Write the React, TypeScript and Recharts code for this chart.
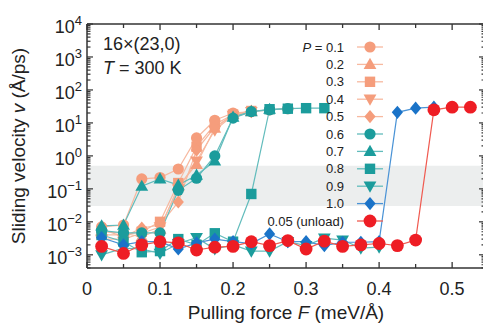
import React from 'react';
import { LineChart, Line, XAxis, YAxis, ReferenceArea, Legend } from 'recharts';

const FONT = '"Liberation Sans", Arial, Helvetica, sans-serif';

// pulling force F (meV/Å)
const forces = [0.02, 0.05, 0.075, 0.1, 0.125, 0.15, 0.175, 0.2, 0.225, 0.25, 0.275, 0.3, 0.325, 0.35, 0.375, 0.4, 0.425, 0.45, 0.475, 0.5, 0.525];

// sliding velocity v (Å/ps) for each pressure P
const p01 = [0.007, 0.008, 0.2, 0.22, 0.4, 3.5, 12, 20, 22, 25, 27, null, null, null, null, null, null, null, null, null, null];
const p02 = [0.005, 0.0045, 0.0035, 0.006, 0.12, 0.55, 7, 18, 23, null, null, null, null, null, null, null, null, null, null, null, null];
const p03 = [0.004, 0.004, 0.005, 0.01, 0.15, 1.9, 9, 18, 23, null, null, null, null, null, null, null, null, null, null, null, null];
const p04 = [0.003, 0.003, 0.0045, 0.007, 0.1, 0.7, 6, 17, 22, null, null, null, null, null, null, null, null, null, null, null, null];
const p05 = [0.006, 0.0035, 0.0065, 0.008, 0.04, 1.5, 7.5, 17, 22, null, null, null, null, null, null, null, null, null, null, null, null];
const p06 = [0.0054, 0.0046, 0.0046, 0.0046, 0.09, 0.21, 1.0, 14, 22, 25, 27, null, null, null, null, null, null, null, null, null, null];
const p07 = [0.0075, 0.008, 0.12, 0.2, 0.13, 0.26, 0.7, 15, 22, 26, null, null, null, null, null, null, null, null, null, null, null];
const p08 = [0.004, 0.0025, 0.0012, 0.0013, 0.003, 0.002, 0.0045, 0.0025, 0.07, 26, 27, 28, 28, null, null, null, null, null, null, null, null];
const p09 = [0.001, 0.0016, 0.0015, 0.0011, 0.0022, 0.0033, 0.0015, 0.002, 0.0013, 0.0013, 0.0025, 0.0019, 0.0032, 0.0028, 0.0016, 0.0017, null, null, null, null, null];
const p10 = [0.0033, 0.002, 0.0025, 0.0025, 0.0015, 0.0023, 0.003, 0.0025, 0.0022, 0.0043, 0.0025, 0.0025, 0.0019, 0.0024, 0.0024, 0.0025, 21, 28, 30, null, null];
const unload = [0.0018, 0.0011, 0.002, 0.0025, 0.0023, 0.0014, 0.0017, 0.0018, 0.0025, 0.0019, 0.0027, 0.0015, 0.0026, 0.0018, 0.002, 0.0022, 0.0019, 0.0028, 25, 30, 30];

const xTicks = [0, 0.05, 0.1, 0.15, 0.2, 0.25, 0.3, 0.35, 0.4, 0.45, 0.5];
const xLabels = ['0', '', '0.1', '', '0.2', '', '0.3', '', '0.4', '', '0.5'];
const yDecades = [-3, -2, -1, 0, 1, 2, 3, 4];
const yMinor = [2, 3, 4, 5, 6, 7, 8, 9];

const yTicks: number[] = [];
[-4, ...yDecades].forEach((d) => {
  if (d >= -3) yTicks.push(Math.pow(10, d));
  if (d < 4) yMinor.forEach((m) => {
    const v = m * Math.pow(10, d);
    if (v >= Math.pow(10, -3.4)) yTicks.push(v);
  });
});

const SALMON = '#f59d7c';
const SALMON_LINE = '#f7b9a0';
const TEAL = '#1b9c9c';
const TEAL_LINE = '#62bcbc';

const series = [
  { key: 'p01', label: '0.1', values: p01, color: SALMON, line: SALMON_LINE, shape: 'circle' },
  { key: 'p02', label: '0.2', values: p02, color: SALMON, line: SALMON_LINE, shape: 'up' },
  { key: 'p03', label: '0.3', values: p03, color: SALMON, line: SALMON_LINE, shape: 'square' },
  { key: 'p04', label: '0.4', values: p04, color: SALMON, line: SALMON_LINE, shape: 'down' },
  { key: 'p05', label: '0.5', values: p05, color: SALMON, line: SALMON_LINE, shape: 'diamond' },
  { key: 'p06', label: '0.6', values: p06, color: TEAL, line: TEAL_LINE, shape: 'circle' },
  { key: 'p07', label: '0.7', values: p07, color: TEAL, line: TEAL_LINE, shape: 'up' },
  { key: 'p08', label: '0.8', values: p08, color: TEAL, line: TEAL_LINE, shape: 'square' },
  { key: 'p09', label: '0.9', values: p09, color: TEAL, line: TEAL_LINE, shape: 'down' },
  { key: 'p10', label: '1.0', values: p10, color: '#1a73c8', line: '#4a93d6', shape: 'diamond' },
  { key: 'unload', label: '0.05 (unload)', values: unload, color: '#ee1d24', line: '#f05a50', shape: 'bigcircle' },
];

const data = forces.map((F, i) => {
  const row: any = { F };
  series.forEach((s) => { row[s.key] = s.values[i]; });
  return row;
});

const Marker = ({ shape, cx, cy, color }: any) => {
  switch (shape) {
    case 'circle':
      return <circle cx={cx} cy={cy} r={5.6} fill={color} />;
    case 'bigcircle':
      return <circle cx={cx} cy={cy} r={6.4} fill={color} />;
    case 'square':
      return <rect x={cx - 5.2} y={cy - 5.2} width={10.4} height={10.4} fill={color} />;
    case 'up':
      return <polygon points={`${cx},${cy - 6.6} ${cx - 6.4},${cy + 4.6} ${cx + 6.4},${cy + 4.6}`} fill={color} />;
    case 'down':
      return <polygon points={`${cx},${cy + 6.6} ${cx - 6.4},${cy - 4.6} ${cx + 6.4},${cy - 4.6}`} fill={color} />;
    case 'diamond':
      return <polygon points={`${cx},${cy - 6.6} ${cx + 5.6},${cy} ${cx},${cy + 6.6} ${cx - 5.6},${cy}`} fill={color} />;
    default:
      return null;
  }
};

const makeDot = (shape: string, color: string) => (props: any) => {
  const { cx, cy, value, index } = props;
  if (value == null || cy == null || isNaN(cy)) return <g key={`e${index}`} />;
  return <Marker key={`d${index}`} shape={shape} cx={cx} cy={cy} color={color} />;
};

const isDecade = (v: number) => Math.abs(Math.log10(v) - Math.round(Math.log10(v))) < 1e-6;

const BottomTick = ({ x, y, index }: any) => {
  const major = xLabels[index] !== '';
  return (
    <g>
      <line x1={x} x2={x} y1={y} y2={y - (major ? 6 : 4)} stroke="#333" strokeWidth={1.3} />
      {major && (
        <text x={x} y={y + 27} textAnchor="middle" fontSize={18} fontFamily={FONT} fill="#222">{xLabels[index]}</text>
      )}
    </g>
  );
};

const TopTick = ({ x, y, index }: any) => {
  const major = xLabels[index] !== '';
  return <line x1={x} x2={x} y1={y} y2={y + (major ? 6 : 4)} stroke="#333" strokeWidth={1.3} />;
};

const LeftTick = ({ x, y, payload }: any) => {
  const v = payload.value;
  const major = isDecade(v);
  const e = Math.round(Math.log10(v));
  return (
    <g>
      <line x1={x} x2={x + (major ? 6 : 3.5)} y1={y} y2={y} stroke="#333" strokeWidth={1.2} />
      {major && (
        <text x={x - 5} y={y + 9} textAnchor="end" fontSize={18} fontFamily={FONT} fill="#222">
          10<tspan dy={-8} fontSize={13}>{e < 0 ? `\u2212${-e}` : `${e}`}</tspan>
        </text>
      )}
    </g>
  );
};

const RightTick = ({ x, y, payload }: any) => {
  const major = isDecade(payload.value);
  return <line x1={x} x2={x - (major ? 6 : 3.5)} y1={y} y2={y} stroke="#333" strokeWidth={1.2} />;
};

const LegendBox = () => (
  <svg width={170} height={200} style={{ display: 'block' }}>
    {series.map((s, i) => {
      const y = 8 + i * 17.4;
      return (
        <g key={s.key}>
          <text x={104} y={y + 4.5} textAnchor="end" fontSize={13} fontFamily={FONT} fill="#222">
            {i === 0 ? (<><tspan fontStyle="italic">P</tspan> = {s.label}</>) : s.label}
          </text>
          <line x1={117} x2={143} y1={y} y2={y} stroke={s.line} strokeWidth={1.3} />
          <Marker shape={s.shape} cx={130} cy={y} color={s.color} />
        </g>
      );
    })}
  </svg>
);

export default function App() {
  return (
    <div style={{ position: 'absolute', left: 0, top: 0, width: 483, height: 326, overflow: 'hidden', background: '#fff' }}>
      <LineChart width={490} height={326} data={data} margin={{ top: 0, right: 0, bottom: 0, left: 0 }}>
        <XAxis xAxisId="b" dataKey="F" type="number" domain={[0, 0.545]} allowDataOverflow ticks={xTicks}
          interval={0} height={58} tickSize={0} tickMargin={0} tickLine={false}
          axisLine={{ stroke: '#333', strokeWidth: 1.5 }} tick={<BottomTick />} />
        <XAxis xAxisId="t" orientation="top" dataKey="F" type="number" domain={[0, 0.545]} allowDataOverflow ticks={xTicks}
          interval={0} height={24} tickSize={0} tickMargin={0} tickLine={false}
          axisLine={{ stroke: '#333', strokeWidth: 1.5 }} tick={<TopTick />} />
        <YAxis yAxisId="l" type="number" scale="log" domain={[Math.pow(10, -3.4), 1e4]} allowDataOverflow ticks={yTicks}
          interval={0} width={87} tickSize={0} tickMargin={0} tickLine={false}
          axisLine={{ stroke: '#333', strokeWidth: 1.5 }} tick={<LeftTick />} />
        <YAxis yAxisId="r" orientation="right" type="number" scale="log" domain={[Math.pow(10, -3.4), 1e4]} allowDataOverflow ticks={yTicks}
          interval={0} width={5} tickSize={0} tickMargin={0} tickLine={false}
          axisLine={{ stroke: '#333', strokeWidth: 1.5 }} tick={<RightTick />} />
        <ReferenceArea xAxisId="b" yAxisId="l" y1={0.03} y2={0.5} fill="#eceeee" fillOpacity={1} stroke="none" ifOverflow="hidden" />
        {series.map((s) => (
          <Line key={s.key} xAxisId="b" yAxisId="l" dataKey={s.key} name={s.label} stroke={s.line} strokeWidth={1.2}
            dot={makeDot(s.shape, s.color)} activeDot={false} isAnimationActive={false} connectNulls={false} />
        ))}
        <Legend layout="vertical" align="center" verticalAlign="middle" content={<LegendBox />}
          wrapperStyle={{ left: 240, top: 39, width: 170, height: 200 }} />
      </LineChart>
      <svg width={483} height={326} style={{ position: 'absolute', left: 0, top: 0, pointerEvents: 'none' }}>
        <text x={103} y={50} fontSize={18} fontFamily={FONT} fill="#222">16×(23,0)</text>
        <text x={103} y={74} fontSize={18} fontFamily={FONT} fill="#222">
          <tspan fontStyle="italic">T</tspan> = 300 K
        </text>
        <text x={286} y={319} textAnchor="middle" fontSize={19} fontFamily={FONT} fill="#222">
          Pulling force <tspan fontStyle="italic">F</tspan> (meV/Å)
        </text>
        <text transform="translate(25,146) rotate(-90)" textAnchor="middle" fontSize={19} fontFamily={FONT} fill="#222">
          Sliding velocity <tspan fontStyle="italic">v</tspan> (Å/ps)
        </text>
      </svg>
    </div>
  );
}
